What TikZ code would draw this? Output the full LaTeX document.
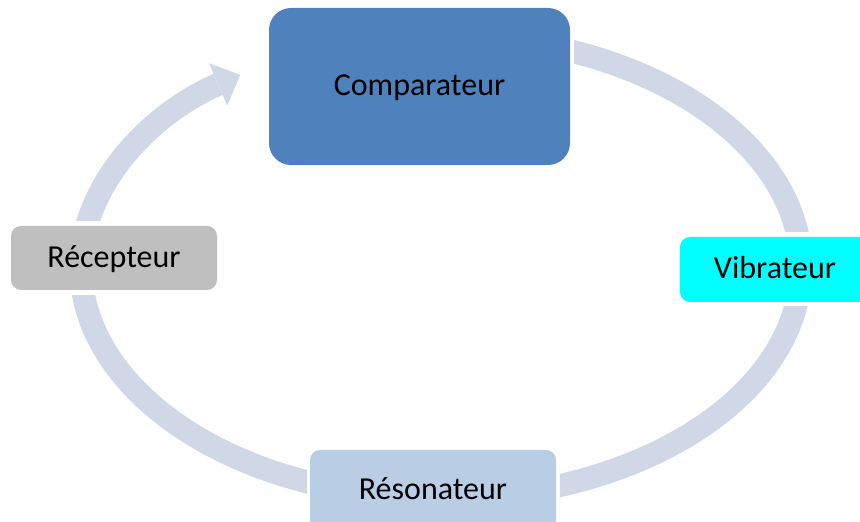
\documentclass[tikz,border=0pt]{standalone}
\usepackage{fontspec}
\setmainfont{Carlito}
\usetikzlibrary{arrows.meta,calc}
\definecolor{ringc}{HTML}{D0D8E8}
\definecolor{compc}{HTML}{4F81BD}
\definecolor{recc}{HTML}{BFBFBF}
\definecolor{vibc}{HTML}{00FFFF}
\definecolor{resc}{HTML}{B9CDE5}
\begin{document}
\begin{tikzpicture}[x=1pt,y=1pt,
  box/.style={rectangle, inner sep=0pt, text height=21pt, text depth=2pt,
    font=\fontsize{32}{38}\selectfont, text=black},
  ring/.style={line width=23pt, draw=ringc}]
\useasboundingbox (0,0) rectangle (860,522);
\node[box, fill=compc, rounded corners=22pt, minimum width=301pt, minimum height=157pt] (comp) at (419.5,435.5) {Comparateur};
\node[box, fill=recc, rounded corners=10pt, minimum width=206pt, minimum height=64pt] (rec) at (114,264) {Récepteur};
\node[box, fill=vibc, rounded corners=10pt, minimum width=190pt, minimum height=65pt] (vib) at (775,252.5) {Vibrateur};
\node[box, fill=resc, rounded corners=10pt, minimum width=246pt, minimum height=80pt] (res) at (433,32) {Résonateur};
\begin{scope}
\clip (0,0) -- (860,0) -- (860,522) -- (0,522) -- cycle
  ($(comp.south west)+(-4,-4)$) -- ($(comp.north west)+(-4,4)$) -- ($(comp.north east)+(4,4)$) -- ($(comp.south east)+(4,-4)$) -- cycle
  ($(rec.south west)+(-5,-5)$) -- ($(rec.north west)+(-5,5)$) -- ($(rec.north east)+(5,5)$) -- ($(rec.south east)+(5,-5)$) -- cycle
  ($(vib.south west)+(-4,-4)$) -- ($(vib.north west)+(-4,5)$) -- ($(vib.north east)+(4,5)$) -- ($(vib.south east)+(4,-4)$) -- cycle
  ($(res.south west)+(-3,-4)$) -- ($(res.north west)+(-3,4)$) -- ($(res.north east)+(4,4)$) -- ($(res.south east)+(4,-4)$) -- cycle;
\draw[ring, -{Triangle[width=46pt,length=24pt,line width=0pt]}] (441,255) ++(80:360pt and 231.5pt)
  arc[start angle=80, end angle=-236.1, x radius=360pt, y radius=231.5pt];
\end{scope}
\end{tikzpicture}
\end{document}
